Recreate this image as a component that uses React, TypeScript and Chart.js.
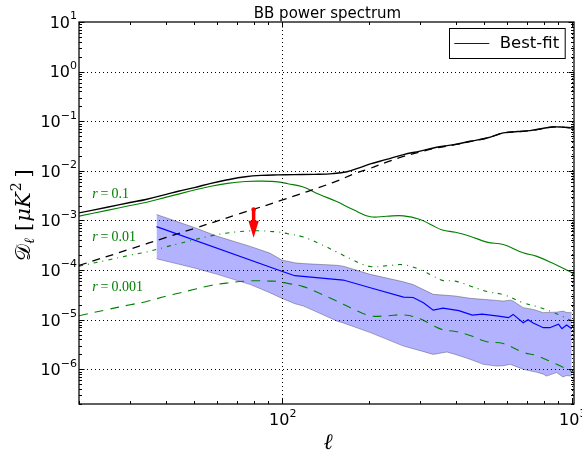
import React, { useEffect, useRef } from "react";
import { Chart, registerables } from "chart.js";
Chart.register(...registerables);

// ---- data ----
const totalL = [20, 25, 30, 34, 40, 44, 50, 57, 65, 75, 85, 97, 110, 130, 150, 168, 185, 202, 230, 263, 300, 342, 400, 446, 510, 581, 650, 718, 800, 864, 930, 1000, 1018];
const totalD = [1.42e-3, 1.85e-3, 2.3e-3, 2.65e-3, 3.35e-3, 3.89e-3, 4.6e-3, 5.6e-3, 6.6e-3, 7.6e-3, 8.1e-3, 8.3e-3, 8.4e-3, 8.5e-3, 8.8e-3, 9.6e-3, 1.15e-2, 1.38e-2, 1.7e-2, 2.13e-2, 2.5e-2, 2.99e-2, 3.45e-2, 3.94e-2, 4.6e-2, 5.82e-2, 6.2e-2, 6.48e-2, 7.2e-2, 7.69e-2, 7.6e-2, 7.34e-2, 7.3e-2];

const lensL = [20, 30, 40, 50, 70, 100, 150, 181, 200, 230, 263, 300, 342, 400, 446, 510, 581, 650, 718, 800, 864, 930, 1000, 1018];
const lensD = [1.24e-4, 2.65e-4, 4.56e-4, 6.92e-4, 1.31e-3, 2.56e-3, 5.8e-3, 9.1e-3, 1.1e-2, 1.5e-2, 1.95e-2, 2.4e-2, 2.9e-2, 3.4e-2, 3.9e-2, 4.55e-2, 5.78e-2, 6.15e-2, 6.45e-2, 7.15e-2, 7.65e-2, 7.58e-2, 7.32e-2, 7.28e-2];

const tensorL = [20, 25, 30, 34, 40, 44, 50, 57, 65, 75, 85, 91, 97, 105, 118, 135, 154, 176, 202, 230, 263, 300, 330, 358, 397, 446, 510, 581, 680, 754, 864, 1000, 1018];
const r01 = [1.22e-3, 1.6e-3, 2.0e-3, 2.3e-3, 2.95e-3, 3.4e-3, 4.1e-3, 4.9e-3, 5.6e-3, 6.1e-3, 6.2e-3, 6.15e-3, 6.0e-3, 5.5e-3, 4.76e-3, 3.33e-3, 2.44e-3, 1.66e-3, 1.19e-3, 1.22e-3, 1.24e-3, 1.05e-3, 8.0e-4, 6.4e-4, 5.8e-4, 4.83e-4, 3.66e-4, 3.28e-4, 2.23e-4, 1.91e-4, 1.36e-4, 8.85e-5, 8.3e-5];
const r001 = [1.2e-4, 1.58e-4, 2.0e-4, 2.3e-4, 2.95e-4, 3.4e-4, 4.1e-4, 4.9e-4, 5.6e-4, 6.1e-4, 6.2e-4, 6.0e-4, 5.9e-4, 5.4e-4, 4.7e-4, 3.4e-4, 2.35e-4, 1.6e-4, 1.18e-4, 1.22e-4, 1.28e-4, 1.02e-4, 7.8e-5, 6.2e-5, 6.0e-5, 4.8e-5, 3.7e-5, 3.2e-5, 2.2e-5, 1.85e-5, 1.4e-5, 9.5e-6, 9.0e-6];
const r0001 = [1.2e-5, 1.6e-5, 2.0e-5, 2.3e-5, 3.0e-5, 3.4e-5, 4.1e-5, 4.9e-5, 5.5e-5, 6.0e-5, 6.1e-5, 6.0e-5, 5.9e-5, 5.4e-5, 4.7e-5, 3.4e-5, 2.4e-5, 1.65e-5, 1.2e-5, 1.2e-5, 1.25e-5, 1.05e-5, 7.8e-6, 6.3e-6, 5.8e-6, 4.8e-6, 3.6e-6, 3.3e-6, 2.2e-6, 1.9e-6, 1.35e-6, 9.0e-7, 8.5e-7];

const bestL = [37, 100, 111, 163, 202, 263, 284, 308, 333, 360, 408, 454, 491, 559, 605, 628, 680, 707, 736, 798, 840, 900, 925, 960, 1000];
const bestD = [7.5e-4, 9.5e-5, 7.7e-5, 6.3e-5, 4.4e-5, 2.85e-5, 2.8e-5, 2.2e-5, 1.56e-5, 1.71e-5, 1.52e-5, 1.24e-5, 1.29e-5, 1.18e-5, 1.1e-5, 1.28e-5, 8.7e-6, 1.0e-5, 8.6e-6, 6.9e-6, 6.9e-6, 8.1e-6, 6.6e-6, 7.8e-6, 6.6e-6];

const bandL = [37, 50, 60, 78, 91, 100, 111, 119, 155, 163, 202, 263, 284, 333, 371, 397, 446, 496, 551, 581, 613, 628, 680, 737, 754, 798, 818, 886, 933, 960, 1000];
const bandHi = [1.32e-3, 7.2e-4, 4.8e-4, 3.0e-4, 2.2e-4, 1.6e-4, 1.4e-4, 1.35e-4, 1.25e-4, 1.2e-4, 8.2e-5, 5.8e-5, 5.1e-5, 3.24e-5, 3.1e-5, 3.0e-5, 2.7e-5, 2.57e-5, 2.45e-5, 2.37e-5, 2.48e-5, 2.37e-5, 1.75e-5, 1.61e-5, 1.55e-5, 1.38e-5, 1.4e-5, 1.42e-5, 1.49e-5, 1.4e-5, 1.38e-5];
const bandLo = [1.69e-4, 1.1e-4, 8.2e-5, 5.1e-5, 3.5e-5, 2.7e-5, 2.1e-5, 1.88e-5, 9.4e-6, 8.6e-6, 5.5e-6, 2.94e-6, 2.6e-6, 2.0e-6, 2.23e-6, 2.0e-6, 1.59e-6, 1.26e-6, 1.16e-6, 1.18e-6, 1.26e-6, 1.2e-6, 1.0e-6, 9.0e-7, 8.8e-7, 8.0e-7, 7.3e-7, 8.6e-7, 7.0e-7, 7.5e-7, 7.3e-7];

const arrowL = 80;
const arrowFrom = 1.66e-3;
const arrowTo = 4.5e-4;

const annoL = 22.2;
const annoValues = ["0.1", "0.01", "0.001"];
const annoD = [2.9e-3, 3.85e-4, 3.8e-5];

const yDecades = [-6, -5, -4, -3, -2, -1, 0, 1];
const xDecades = [2, 3];
const X_MIN = 20;
const X_MAX = 1018;
const Y_MIN = 2e-7;
const Y_MAX = 10;

const TITLE = "BB power spectrum";
const LEGEND_LABEL = "Best-fit";

const GREEN = "#008000";

function pts(L: number[], D: number[]) {
  return L.map((l, i) => ({ x: l, y: D[i] }));
}

function drawPow(ctx: CanvasRenderingContext2D, exp: number, x: number, base: number, anchor: "right" | "center") {
  const main = '16px "DejaVu Sans"';
  const sup = '11px "DejaVu Sans"';
  const e = exp < 0 ? "\u2212" + -exp : String(exp);
  ctx.font = main;
  const w1 = ctx.measureText("10").width;
  ctx.font = sup;
  const w2 = ctx.measureText(e).width;
  const total = w1 + w2;
  const x0 = anchor === "right" ? x - total : x - total / 2;
  ctx.textAlign = "left";
  ctx.textBaseline = "alphabetic";
  ctx.fillStyle = "#000";
  ctx.font = main;
  ctx.fillText("10", x0, base);
  ctx.font = sup;
  ctx.fillText(e, x0 + w1, base - 8.5);
}

const decor = {
  id: "decor",
  afterDatasetsDraw(chart: any) {
    const ctx: CanvasRenderingContext2D = chart.ctx;
    const a = chart.chartArea;
    const xs = chart.scales.x;
    const ys = chart.scales.y;
    ctx.save();

    // grid (dotted)
    ctx.strokeStyle = "#000";
    ctx.lineWidth = 1;
    ctx.setLineDash([1, 3]);
    for (const e of yDecades) {
      const py = Math.round(ys.getPixelForValue(Math.pow(10, e))) + 0.5;
      if (py <= a.top + 1 || py >= a.bottom - 1) continue;
      ctx.beginPath();
      ctx.moveTo(a.left, py);
      ctx.lineTo(a.right, py);
      ctx.stroke();
    }
    for (const e of xDecades) {
      const px = Math.round(xs.getPixelForValue(Math.pow(10, e))) + 0.5;
      ctx.beginPath();
      ctx.moveTo(px, a.top);
      ctx.lineTo(px, a.bottom);
      ctx.stroke();
    }
    ctx.setLineDash([]);

    // red arrow (upper limit)
    {
      const px = xs.getPixelForValue(arrowL);
      const p1 = ys.getPixelForValue(arrowFrom);
      const p2 = ys.getPixelForValue(arrowTo);
      const headLen = 17;
      ctx.strokeStyle = "#ff0000";
      ctx.fillStyle = "#ff0000";
      ctx.lineWidth = 3.5;
      ctx.beginPath();
      ctx.moveTo(px, p1);
      ctx.lineTo(px, p2 - headLen + 1);
      ctx.stroke();
      ctx.beginPath();
      ctx.arc(px, p1, 2.3, 0, Math.PI * 2);
      ctx.fill();
      ctx.beginPath();
      ctx.moveTo(px - 5.2, p2 - headLen);
      ctx.lineTo(px + 5.2, p2 - headLen);
      ctx.lineTo(px, p2);
      ctx.closePath();
      ctx.fill();
    }

    // frame
    ctx.strokeStyle = "#000";
    ctx.lineWidth = 1.25;
    ctx.strokeRect(a.left, a.top, a.right - a.left, a.bottom - a.top);

    // ticks
    ctx.lineWidth = 1;
    const MAJ = 5.5;
    const MIN = 3;
    for (let e = -7; e <= 1; e++) {
      for (let m = 1; m <= 9; m++) {
        const v = m * Math.pow(10, e);
        if (v < Y_MIN || v > Y_MAX) continue;
        const py = Math.round(ys.getPixelForValue(v)) + 0.5;
        const len = m === 1 ? MAJ : MIN;
        ctx.beginPath();
        ctx.moveTo(a.left, py);
        ctx.lineTo(a.left + len, py);
        ctx.moveTo(a.right, py);
        ctx.lineTo(a.right - len, py);
        ctx.stroke();
      }
    }
    for (let e = 1; e <= 3; e++) {
      for (let m = 1; m <= 9; m++) {
        const v = m * Math.pow(10, e);
        if (v < X_MIN || v > X_MAX) continue;
        const px = Math.round(xs.getPixelForValue(v)) + 0.5;
        const len = m === 1 ? MAJ : MIN;
        ctx.beginPath();
        ctx.moveTo(px, a.bottom);
        ctx.lineTo(px, a.bottom - len);
        ctx.moveTo(px, a.top);
        ctx.lineTo(px, a.top + len);
        ctx.stroke();
      }
    }

    // tick labels
    for (const e of yDecades) {
      const py = ys.getPixelForValue(Math.pow(10, e));
      drawPow(ctx, e, a.left - 2, py + 5.8, "right");
    }
    for (const e of xDecades) {
      const px = xs.getPixelForValue(Math.pow(10, e));
      drawPow(ctx, e, px + 1, a.bottom + 21, "center");
    }

    // title
    ctx.fillStyle = "#000";
    ctx.font = '15px "DejaVu Sans"';
    ctx.textAlign = "center";
    ctx.textBaseline = "alphabetic";
    ctx.fillText(TITLE, (a.left + a.right) / 2 + 1, 17.5);

    // x label
    ctx.font = 'italic 22px "DejaVu Serif"';
    ctx.fillText("\u2113", (a.left + a.right) / 2 + 1.5, 449);

    // y label (rotated)
    ctx.save();
    ctx.translate(30, 215);
    ctx.rotate(-Math.PI / 2);
    ctx.textAlign = "left";
    const big = '21px "DejaVu Serif"';
    const bigIt = 'italic 21px "DejaVu Serif"';
    const small = '14px "DejaVu Serif"';
    const smallIt = 'italic 14px "DejaVu Serif"';
    const pieces: [string, string, number, number][] = [
      ["\u{1D49F}", big, 0, 0],
      ["\u2113", smallIt, 4, 0],
      ["[", big, 0, 7],
      ["\u03BC", bigIt, 0, 1],
      ["K", bigIt, 0, 0],
      ["2", small, -9, 1],
      ["]", big, 0, 5],
    ];
    let total = 0;
    const widths: number[] = [];
    for (const [t, f, , gap] of pieces) {
      ctx.font = f;
      const w = ctx.measureText(t).width;
      widths.push(w);
      total += w + gap;
    }
    let cx = -total / 2;
    pieces.forEach(([t, f, dy, gap], i) => {
      cx += gap;
      ctx.font = f;
      ctx.fillText(t, cx, dy);
      cx += widths[i];
    });
    ctx.restore();

    // annotations r=...
    ctx.fillStyle = GREEN;
    ctx.textAlign = "left";
    annoValues.forEach((val, i) => {
      const px = xs.getPixelForValue(annoL);
      const py = ys.getPixelForValue(annoD[i]);
      ctx.font = 'italic 14px "Liberation Serif"';
      ctx.fillText("r", px, py);
      let w = ctx.measureText("r").width + 3;
      ctx.font = '14px "Liberation Serif"';
      ctx.fillText("=", px + w, py);
      w += ctx.measureText("=").width + 3;
      ctx.fillText(val, px + w, py);
    });

    // legend
    {
      const bx = a.right - 124.7;
      const by = a.top + 6;
      const bw = 115.7;
      const bh = 30;
      ctx.fillStyle = "#fff";
      ctx.fillRect(bx, by, bw, bh);
      ctx.strokeStyle = "#000";
      ctx.lineWidth = 1;
      ctx.strokeRect(Math.round(bx) + 0.5, Math.round(by) + 0.5, bw, bh);
      ctx.strokeStyle = "#0000ff";
      ctx.lineWidth = 1.2;
      ctx.beginPath();
      ctx.moveTo(bx + 5, by + bh / 2 + 0.5);
      ctx.lineTo(bx + 40, by + bh / 2 + 0.5);
      ctx.stroke();
      ctx.fillStyle = "#000";
      ctx.font = '16.5px "DejaVu Sans"';
      ctx.textBaseline = "middle";
      ctx.fillText(LEGEND_LABEL, bx + 50.5, by + bh / 2 + 1);
    }

    ctx.restore();
  },
};

export default function App() {
  const ref = useRef<HTMLCanvasElement | null>(null);
  useEffect(() => {
    document.body.style.margin = "0";
    const canvas = ref.current;
    if (!canvas) return;
    const line = (label: string, L: number[], D: number[], extra: any) => ({
      label,
      data: pts(L, D),
      pointRadius: 0,
      borderWidth: 1.1,
      fill: false,
      tension: 0,
      ...extra,
    });
    const smooth = { tension: 0.4 };
    const chart = new Chart(canvas, {
      type: "line",
      data: {
        datasets: [
          line(LEGEND_LABEL, bestL, bestD, { borderColor: "#0000ff", borderWidth: 1.2 }),
          line("lensing", lensL, lensD, { borderColor: "#000", borderWidth: 1.3, borderDash: [8, 6], ...smooth }),
          line("total", totalL, totalD, { borderColor: "#000", borderWidth: 1.4, ...smooth }),
          line("r=0.1", tensorL, r01, { borderColor: GREEN, ...smooth }),
          line("r=0.01", tensorL, r001, { borderColor: GREEN, borderDash: [4, 5, 1, 5], ...smooth }),
          line("r=0.001", tensorL, r0001, { borderColor: GREEN, borderDash: [9, 7], ...smooth }),
          line("band upper", bandL, bandHi, { borderColor: "rgba(0,0,0,0.3)", borderWidth: 1, fill: 7, backgroundColor: "rgba(0,0,255,0.3)" }),
          line("band lower", bandL, bandLo, { borderColor: "rgba(0,0,0,0.3)", borderWidth: 1 }),
        ],
      },
      options: {
        animation: false,
        responsive: false,
        devicePixelRatio: 1,
        layout: { padding: { top: 22, right: 8, left: 0, bottom: 0 } },
        plugins: { legend: { display: false }, tooltip: { enabled: false }, title: { display: false } },
        scales: {
          x: {
            type: "logarithmic",
            min: X_MIN,
            max: X_MAX,
            bounds: "data",
            grid: { display: false },
            border: { display: false },
            ticks: { display: false },
            afterFit: (s: any) => {
              s.height = 50;
            },
          },
          y: {
            type: "logarithmic",
            min: Y_MIN,
            max: Y_MAX,
            bounds: "data",
            grid: { display: false },
            border: { display: false },
            ticks: { display: false },
            afterFit: (s: any) => {
              s.width = 79;
            },
          },
        },
      } as any,
      plugins: [decor],
    });
    return () => chart.destroy();
  }, []);
  return <canvas ref={ref} width={582} height={454} style={{ display: "block" }} />;
}
